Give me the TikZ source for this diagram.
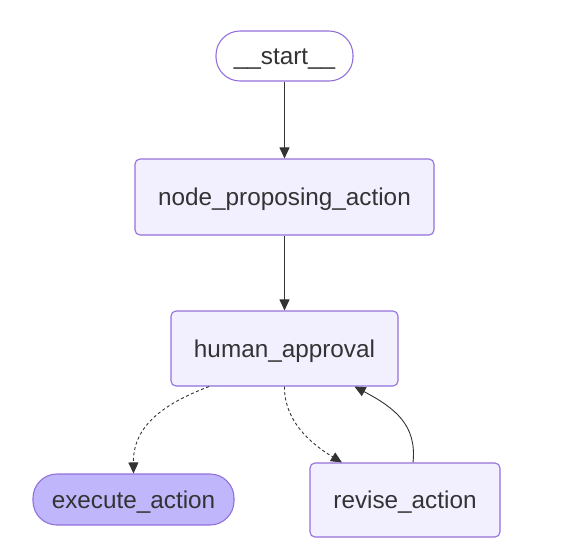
\documentclass[tikz,border=0pt]{standalone}
\usepackage{fontspec}
\setmainfont{Liberation Sans}
\usetikzlibrary{arrows.meta,calc}
\definecolor{nodefill}{HTML}{F2F0FF}
\definecolor{lastfill}{HTML}{BFB6FC}
\definecolor{nodeline}{HTML}{9370DB}
\definecolor{txt}{HTML}{333333}
\definecolor{edge}{HTML}{333333}
\begin{document}
\begin{tikzpicture}[x=1pt,y=-1pt,
  box/.style={draw=nodeline, line width=1.1pt, fill=nodefill, rounded corners=5pt,
    inner sep=0pt, text=txt, text height=22pt, text depth=5pt,
    font=\fontsize{24.3pt}{28pt}\selectfont},
  pill/.style={box, rounded corners=24pt},
  conn/.style={draw=edge, line width=0.9pt, -{Triangle[length=11pt,width=10pt]}},
  dconn/.style={conn, dash pattern=on 3pt off 2.5pt}
]
\useasboundingbox (0,0) rectangle (568,550);
\node[pill, fill=white, minimum width=137pt, minimum height=50pt] (start) at (284.5,56) {\_\_start\_\_};
\node[box, minimum width=299pt, minimum height=76pt] (npa) at (284.5,197) {node\_proposing\_action};
\node[box, minimum width=227pt, minimum height=75pt] (ha) at (284.5,348.5) {human\_approval};
\node[pill, fill=lastfill, minimum width=201pt, minimum height=51pt] (ex) at (133.5,499.5) {execute\_action};
\node[box, minimum width=190pt, minimum height=74pt] (rv) at (405,500) {revise\_action};

\coordinate (haA) at ($(ha.south)+(-75.5,0)$);
\coordinate (rvA) at ($(rv.north)+(-63,0)$);
\coordinate (rvB) at ($(rv.north)+(8,0)$);
\coordinate (haB) at ($(ha.south)+(70,0)$);

\draw[conn] (start.south) -- (npa.north);
\draw[conn] (npa.south) -- (ha.north);
\draw[dconn] (haA) .. controls (160,405) and (133,428) .. (ex.north);
\draw[dconn] (ha.south) .. controls (284,425) and (318,448) .. (rvA);
\draw[conn] (rvB) .. controls (417,425) and (395,408) .. (haB);
\end{tikzpicture}
\end{document}
